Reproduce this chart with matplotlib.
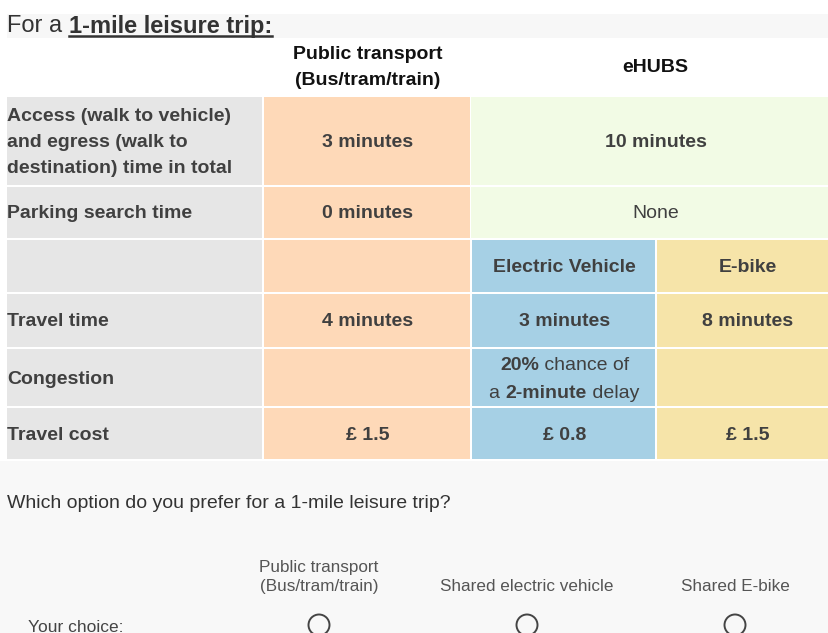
import matplotlib.pyplot as plt
from matplotlib.patches import Rectangle, Circle

plt.rcParams['font.family'] = ['Liberation Sans', 'DejaVu Sans']

# --- DATA ---
trip_title = "1-mile leisure trip:"
pt_header = "Public transport\n(Bus/tram/train)"
hub_header = "eHUBS"
hub_modes = ["Electric Vehicle", "E-bike"]
row_labels = ["Access (walk to vehicle)\nand egress (walk to\ndestination) time in total",
              "Parking search time", "", "Travel time", "Congestion", "Travel cost"]
pt_values = ["3 minutes", "0 minutes", "", "4 minutes", "", "£ 1.5"]
hub_shared = ["10 minutes", "None"]          # access/egress, parking (both eHUBS modes)
ev_values = ["3 minutes", None, "£ 0.8"]     # travel time, congestion, cost
ebike_values = ["8 minutes", "", "£ 1.5"]
ev_congestion = [[("20%", "bold"), (" chance of", "normal")],
                 [("a ", "normal"), ("2-minute", "bold"), (" delay", "normal")]]
question = "Which option do you prefer for a 1-mile leisure trip?"
choices = ["Public transport\n(Bus/tram/train)", "Shared electric vehicle", "Shared E-bike"]

# --- LAYOUT (pixels) ---
col_x = [7, 264, 472, 657, 839]   # last column runs past the right edge
row_y = [97, 187, 240, 294, 349, 408, 461]
gap = 2
GRAY, PEACH, GREEN, BLUE, YELLOW = '#e6e6e6', '#fed9b8', '#f2fbe5', '#a6d0e5', '#f6e4a9'
TXT = '#404040'
FS = 14
DY = 1.5   # small nudge, text sits slightly lower in the original

fig = plt.figure(figsize=(8.29, 6.33), dpi=100)
ax = fig.add_axes([0, 0, 1, 1])
ax.set_xlim(0, 829)
ax.set_ylim(633, 0)
ax.axis('off')
renderer = fig.canvas.get_renderer()

def cell(x0, x1, y0, y1, color):
    ax.add_patch(Rectangle((x0, y0), x1 - x0 - gap, y1 - y0 - gap, color=color, lw=0))

def runs_line(xc, y, runs, fs=FS, color=TXT):
    widths = []
    for s, w in runs:
        t = ax.text(0, 0, s, fontsize=fs, fontweight=w)
        widths.append(t.get_window_extent(renderer).width)
        t.remove()
    x = xc - sum(widths) / 2
    for (s, w), wd in zip(runs, widths):
        ax.text(x, y, s, fontsize=fs, fontweight=w, color=color, ha='left', va='center')
        x += wd

# backgrounds
ax.add_patch(Rectangle((7, 14), 822, 24, color='#f7f7f7', lw=0))
ax.add_patch(Rectangle((0, 461), 829, 172, color='#f8f8f8', lw=0))

# title
t1 = ax.text(7, 26.5, "For a ", fontsize=17, color='#333333', va='center')
w1 = t1.get_window_extent(renderer).width
t2 = ax.text(7 + w1, 26.5, trip_title, fontsize=17, fontweight='bold', color='#333333', va='center')
w2 = t2.get_window_extent(renderer).width
ax.plot([7 + w1, 7 + w1 + w2], [36, 36], color='#333333', lw=1.8)

# headers
ax.text((col_x[1] + col_x[2]) / 2, 67.5, pt_header, fontsize=14, fontweight='bold', color='#111111',
        ha='center', va='center', linespacing=1.7)
ax.text((col_x[2] + col_x[4]) / 2, 68, hub_header, fontsize=14, fontweight='bold', color='#111111',
        ha='center', va='center')

# table cells
for i, label in enumerate(row_labels):
    y0, y1 = row_y[i], row_y[i + 1]
    cell(col_x[0], col_x[1], y0, y1, GRAY)
    cell(col_x[1], col_x[2], y0, y1, PEACH)
    ym = (y0 + y1 - gap) / 2 + DY
    if label:
        ax.text(col_x[0], ym, label, fontsize=FS, fontweight='bold', color=TXT,
                ha='left', va='center', linespacing=1.73)
    if pt_values[i]:
        ax.text((col_x[1] + col_x[2]) / 2, ym, pt_values[i], fontsize=FS, fontweight='bold',
                color=TXT, ha='center', va='center')

# eHUBS shared rows
for i, val in enumerate(hub_shared):
    y0, y1 = row_y[i], row_y[i + 1]
    ax.add_patch(Rectangle((col_x[2] - 1, y0), col_x[4] - col_x[2] + 1, y1 - y0 - gap, color=GREEN, lw=0))
    ym = (y0 + y1 - gap) / 2 + DY
    ax.text((col_x[2] + col_x[4]) / 2, ym, val, fontsize=FS,
            fontweight='bold' if i == 0 else 'normal', color=TXT, ha='center', va='center')

# mode sub-header and values
mode_rows = [2, 3, 4, 5]
ev_col = [hub_modes[0]] + ev_values
eb_col = [hub_modes[1]] + ebike_values
for k, i in enumerate(mode_rows):
    y0, y1 = row_y[i], row_y[i + 1]
    ym = (y0 + y1 - gap) / 2 + DY
    cell(col_x[2], col_x[3], y0, y1, BLUE)
    cell(col_x[3], col_x[4] + gap, y0, y1, YELLOW)
    if ev_col[k] is None:
        runs_line((col_x[2] + col_x[3]) / 2, ym - 14, ev_congestion[0])
        runs_line((col_x[2] + col_x[3]) / 2, ym + 14, ev_congestion[1])
    elif ev_col[k]:
        ax.text((col_x[2] + col_x[3]) / 2, ym, ev_col[k], fontsize=FS, fontweight='bold',
                color=TXT, ha='center', va='center')
    if eb_col[k]:
        ax.text((col_x[3] + col_x[4]) / 2, ym, eb_col[k], fontsize=FS, fontweight='bold',
                color=TXT, ha='center', va='center')

# question and choices
ax.text(7, 504, question, fontsize=14, color='#333333', ha='left', va='center')
choice_x = [319, 527, 735]
for x, c in zip(choice_x, choices):
    ax.text(x, 594, c, fontsize=12.3, color='#555555', ha='center', va='bottom', linespacing=1.32)
    ax.add_patch(Circle((x, 625), 10.5, fill=False, ec='#444444', lw=1.4))
ax.text(28, 627, "Your choice:", fontsize=12.5, color='#444444', ha='left', va='center')

fig.savefig("out.png", dpi=100)
